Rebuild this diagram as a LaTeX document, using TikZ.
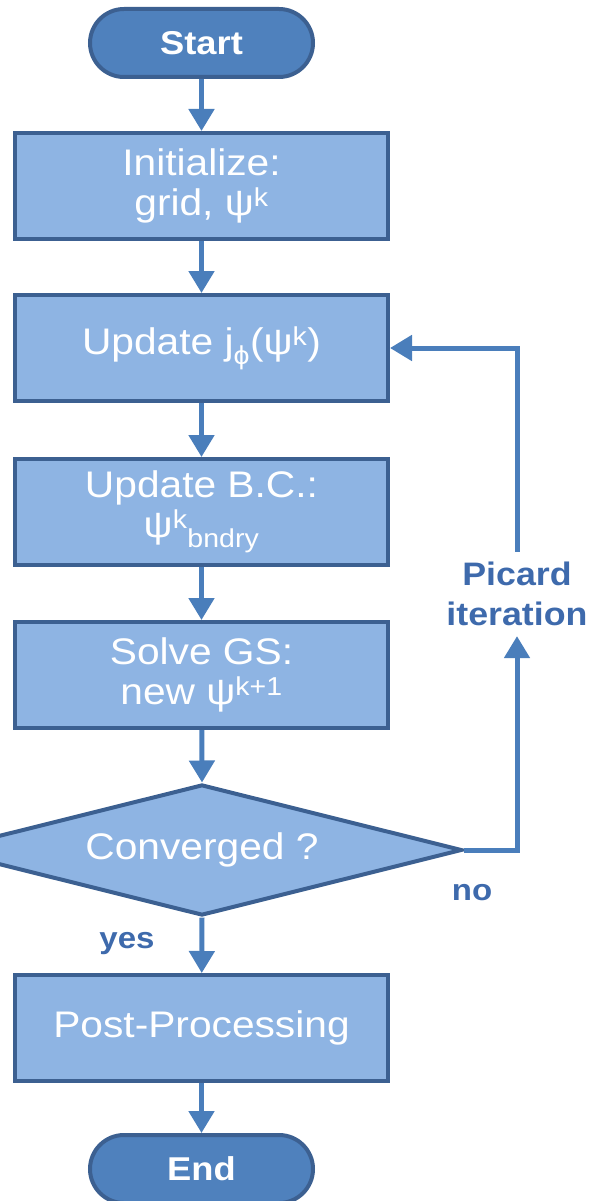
\documentclass[tikz,border=0pt]{standalone}
\usepackage{fontspec}
\setmainfont{Liberation Sans}[FakeStretch=1.1]
\usetikzlibrary{shapes.geometric,arrows.meta}
\definecolor{boxfill}{RGB}{142,180,227}
\definecolor{boxdraw}{RGB}{60,96,145}
\definecolor{termfill}{RGB}{79,129,189}
\definecolor{arrowc}{RGB}{74,126,187}
\definecolor{labelc}{RGB}{62,106,172}
\tikzset{
  procbox/.style={rectangle, draw=boxdraw, line width=4pt, fill=boxfill,
    minimum width=373pt, minimum height=106pt, inner sep=0pt, text=white,
    align=center, font=\fontsize{37}{40}\selectfont},
  termbox/.style={rectangle, rounded corners=34pt, draw=boxdraw, line width=4pt,
    fill=termfill, minimum width=223pt, minimum height=68pt, inner sep=0pt,
    text=white, font=\fontsize{33}{36}\selectfont\bfseries},
  decbox/.style={diamond, draw=boxdraw, line width=4pt, fill=boxfill,
    minimum width=520pt, minimum height=131pt, aspect=3.9, inner sep=0pt,
    text=white, font=\fontsize{37}{41}\selectfont},
  flowarrow/.style={draw=arrowc, line width=5pt,
    -{Triangle[width=25pt,length=22pt]}},
  looplabel/.style={text=labelc, align=center,
    font=\fontsize{32.5}{40}\selectfont\bfseries},
}
\begin{document}
\begin{tikzpicture}[x=1pt,y=-1pt]
\useasboundingbox (0,0) rectangle (592,1201);
\clip (0,0) rectangle (592,1201);
\node[termbox] (start) at (201.5,43) {Start};
\node[procbox] (init) at (201.5,186) {Initialize:\\grid, ψ\textsuperscript{k}};
\node[procbox] (upd) at (201.5,348) {Update j\textsubscript{ϕ}(ψ\textsuperscript{k})};
\node[procbox] (bc) at (201.5,512) {Update B.C.:\\ψ\textsuperscript{k}\textsubscript{bndry}};
\node[procbox] (solve) at (201.5,675) {Solve GS:\\new ψ\textsuperscript{k+1}};
\node[decbox] (conv) at (202,850) {Converged ?};
\node[procbox] (post) at (201.5,1028) {Post-Processing};
\node[termbox] (end) at (201.5,1169) {End};
\node[looplabel, inner ysep=10pt] (pic) at (517,594) {Picard\\iteration};
\node[looplabel, font=\fontsize{30}{34}\selectfont\bfseries] (no) at (472,893) {no};
\node[looplabel, font=\fontsize{30}{34}\selectfont\bfseries] (yes) at (127,944) {yes};
\draw[flowarrow] (start) -- (init);
\draw[flowarrow] (init) -- (upd);
\draw[flowarrow] (upd) -- (bc);
\draw[flowarrow] (bc) -- (solve);
\draw[flowarrow] (solve) -- (conv.north);
\draw[flowarrow] (conv.south) -- (post);
\draw[flowarrow] (post) -- (end);
\draw[flowarrow] (conv.east) -| (pic.south);
\draw[flowarrow] (pic.north) |- (upd.east);
\end{tikzpicture}
\end{document}
